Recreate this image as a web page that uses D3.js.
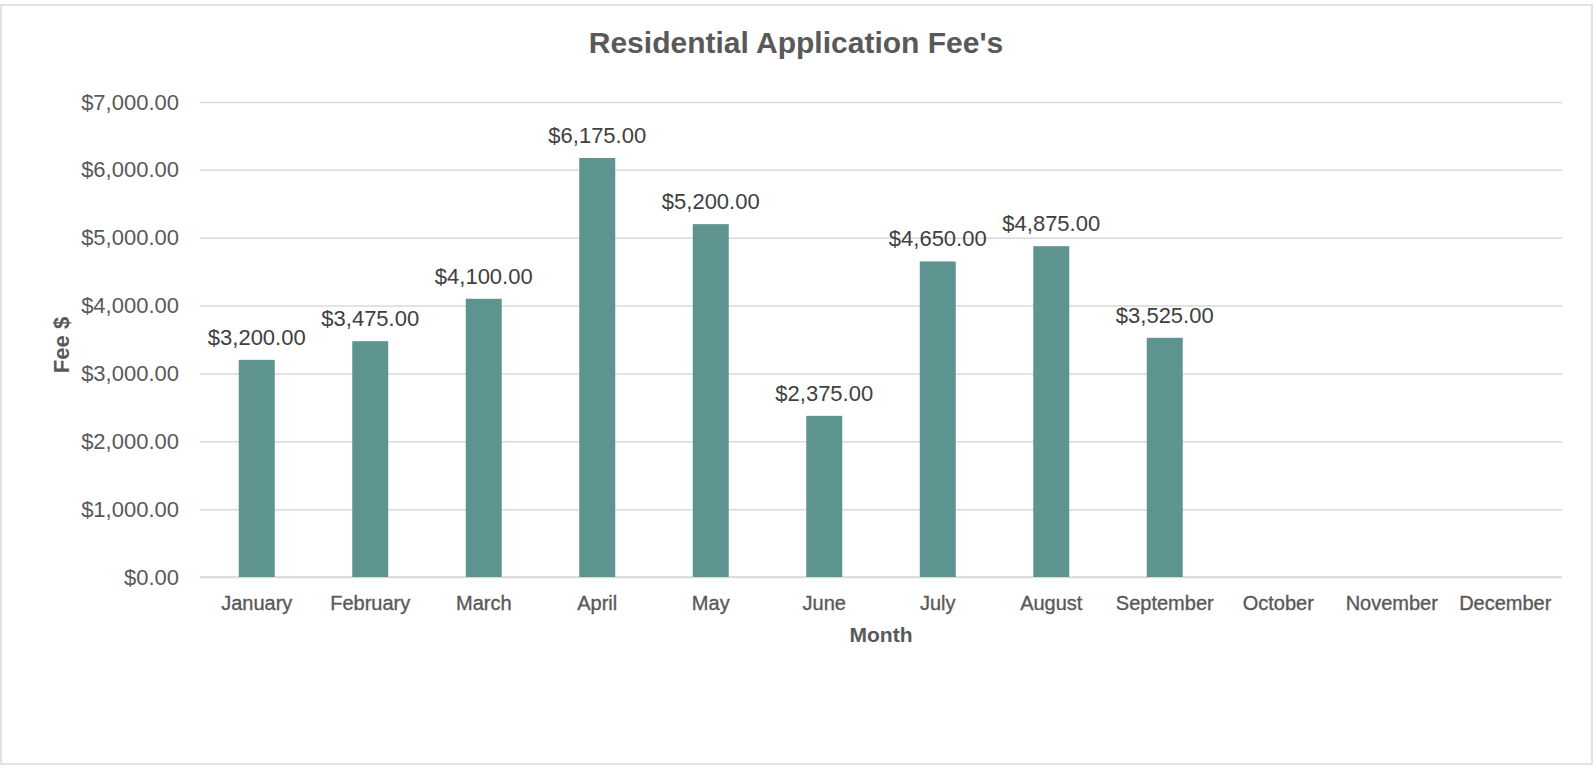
<!DOCTYPE html>
<html>
<head>
<meta charset="utf-8">
<script src="https://cdn.jsdelivr.net/npm/d3@7"></script>
<style>
  html, body { margin: 0; padding: 0; background: #ffffff; }
  svg { display: block; }
</style>
</head>
<body>
<svg id="chart" width="1596" height="769"></svg>
<script>
const months = ["January","February","March","April","May","June","July","August","September","October","November","December"];
const fees = [3200, 3475, 4100, 6175, 5200, 2375, 4650, 4875, 3525, null, null, null];
const yTicks = [0, 1000, 2000, 3000, 4000, 5000, 6000, 7000];
const chartTitle = "Residential Application Fee's";
const xTitle = "Month";
const yTitle = "Fee $";

const data = months.map((m, i) => ({ month: m, fee: fees[i] }));

const svg = d3.select("#chart");
const plot = { left: 200, right: 1562, top: 102, bottom: 577 };

svg.append("rect")
  .attr("x", 1).attr("y", 5).attr("width", 1591).attr("height", 759)
  .attr("fill", "#ffffff").attr("stroke", "#d9d9d9").attr("stroke-width", 1.5);

const x = d3.scaleBand().domain(months).range([plot.left, plot.right])
  .paddingInner(0.683).paddingOuter(0.3415);
const y = d3.scaleLinear().domain([0, 7000]).range([plot.bottom, plot.top]);
const fmt = d3.format("$,.2f");

// gridlines + y labels
const yAxis = d3.axisLeft(y).tickValues(yTicks).tickFormat(fmt)
  .tickSize(-(plot.right - plot.left)).tickPadding(21);
const gy = svg.append("g").attr("transform", `translate(${plot.left},0)`).call(yAxis);
gy.select(".domain").remove();
gy.selectAll(".tick line").attr("stroke", "#d9d9d9").attr("stroke-width", 1.5);
gy.selectAll(".tick text")
  .attr("fill", "#595959")
  .style("font-family", "'Liberation Sans', Arial, sans-serif")
  .style("font-size", "22px");

// x axis
const xAxis = d3.axisBottom(x).tickSize(0).tickPadding(19);
const gx = svg.append("g").attr("transform", `translate(0,${plot.bottom})`).call(xAxis);
gx.select(".domain").attr("stroke", "#d9d9d9").attr("stroke-width", 1.5)
  .attr("d", `M${plot.left},0H${plot.right}`);
gx.selectAll(".tick text")
  .attr("fill", "#595959")
  .attr("stroke", "#595959")
  .attr("stroke-width", 0.35)
  .style("font-family", "'Liberation Sans', Arial, sans-serif")
  .style("font-size", "20px");

// bars
const valid = data.filter(d => d.fee != null);
svg.append("g").selectAll("rect").data(valid).join("rect")
  .attr("x", d => x(d.month))
  .attr("width", x.bandwidth())
  .attr("y", d => y(d.fee))
  .attr("height", d => y(0) - y(d.fee))
  .attr("fill", "#5d948f");

// data labels
svg.append("g").selectAll("text").data(valid).join("text")
  .attr("x", d => x(d.month) + x.bandwidth() / 2)
  .attr("y", d => y(d.fee) - 15)
  .attr("text-anchor", "middle")
  .attr("fill", "#404040")
  .style("font-family", "'Liberation Sans', Arial, sans-serif")
  .style("font-size", "22px")
  .text(d => fmt(d.fee));

// title
svg.append("text")
  .attr("x", 796).attr("y", 53)
  .attr("text-anchor", "middle")
  .attr("fill", "#595959")
  .style("font-family", "'Liberation Sans', Arial, sans-serif")
  .style("font-size", "30px")
  .style("font-weight", "bold")
  .text(chartTitle);

// axis titles
svg.append("text")
  .attr("x", (plot.left + plot.right) / 2).attr("y", 642)
  .attr("text-anchor", "middle")
  .attr("fill", "#595959")
  .style("font-family", "'Liberation Sans', Arial, sans-serif")
  .style("font-size", "21px")
  .style("font-weight", "bold")
  .text(xTitle);

svg.append("text")
  .attr("transform", "translate(69,345) rotate(-90)")
  .attr("text-anchor", "middle")
  .attr("fill", "#595959")
  .style("font-family", "'Liberation Sans', Arial, sans-serif")
  .style("font-size", "22px")
  .style("font-weight", "bold")
  .text(yTitle);
</script>
</body>
</html>
